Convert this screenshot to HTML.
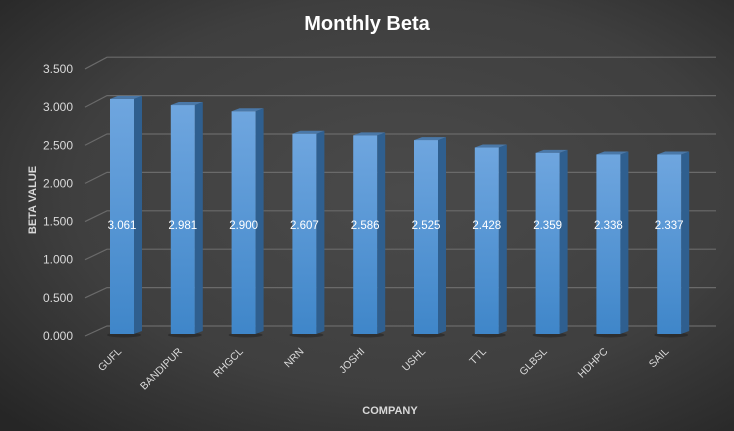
<!DOCTYPE html><html><head><style>body{margin:0}svg{display:block}</style></head><body>
<svg width="734" height="431" xmlns="http://www.w3.org/2000/svg" font-family="Liberation Sans, sans-serif">
<defs>
<radialGradient id="bg" cx="0.55" cy="0.45" r="0.75"><stop offset="0" stop-color="#4a4a4a"/><stop offset="0.6" stop-color="#3f3f3f"/><stop offset="1" stop-color="#262626"/></radialGradient>
<linearGradient id="bar" x1="0" y1="0" x2="0" y2="1"><stop offset="0" stop-color="#6fa6df"/><stop offset="1" stop-color="#3f86c9"/></linearGradient>
</defs>
<rect width="734" height="431" fill="url(#bg)"/>
<text x="367" y="30" text-anchor="middle" fill="#fff" font-size="20" font-weight="bold">Monthly Beta</text>
<g stroke="#6a6a6a" stroke-width="1.2" fill="none" id="grid"></g>
<g id="bars"></g>
<text transform="translate(36,200) rotate(-90)" text-anchor="middle" fill="#d9d9d9" font-size="11" font-weight="bold">BETA VALUE</text>
<text x="390" y="414" text-anchor="middle" fill="#d9d9d9" font-size="11" font-weight="bold">COMPANY</text>
<script>
const ns="http://www.w3.org/2000/svg";
const g=document.getElementById('grid'),b=document.getElementById('bars'),svg=document.querySelector('svg');
function el(t,a,p){const e=document.createElementNS(ns,t);for(const k in a)e.setAttribute(k,a[k]);(p||svg).appendChild(e);return e;}
for(let i=0;i<=7;i++){const yf=336-i*38.15,yb=326-i*38.4;
el('polyline',{points:`85,${yf} 107,${yb} 716,${yb}`},g);
const t=el('text',{x:73,y:yf+4,'text-anchor':'end',fill:'#d9d9d9','font-size':12});t.textContent=(i*0.5).toFixed(3);}
const d=[["GUFL",3.061],["BANDIPUR",2.981],["RHGCL",2.900],["NRN",2.607],["JOSHI",2.586],["USHL",2.525],["TTL",2.428],["GLBSL",2.359],["HDHPC",2.338],["SAIL",2.337]];
d.forEach(([n,v],i)=>{const x=110+i*60.8,w=24,top=334-v*76.8,bot=334;
el('ellipse',{cx:x+14,cy:bot+1,rx:17,ry:2.5,fill:'#1e1e1e',opacity:0.5},b);
el('polygon',{points:`${x+w},${top} ${x+w+8},${top-3} ${x+w+8},${bot-3} ${x+w},${bot}`,fill:'#2f5f8f'},b);
el('polygon',{points:`${x},${top} ${x+8},${top-3} ${x+w+8},${top-3} ${x+w},${top}`,fill:'#4a78a8'},b);
el('rect',{x:x,y:top,width:w,height:bot-top,fill:'url(#bar)'},b);
const t=el('text',{x:x+12,y:229,'text-anchor':'middle',fill:'#fff','font-size':11.5},b);t.textContent=v.toFixed(3);
const l=el('text',{transform:`translate(${x+12},352) rotate(-45)`,'text-anchor':'end',fill:'#d9d9d9','font-size':10.5});l.textContent=n;});
</script>
</svg></body></html>
